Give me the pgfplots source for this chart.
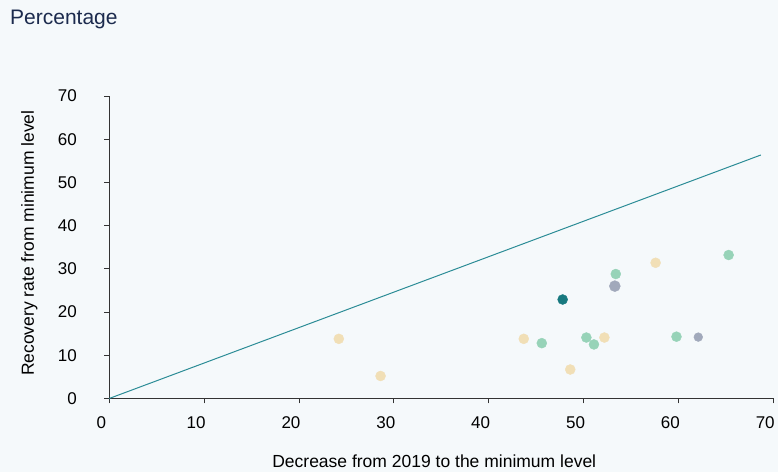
\documentclass[border=0pt]{standalone}
\usepackage{fontspec}
\setmainfont{Liberation Sans}
\usepackage{pgfplots}
\pgfplotsset{compat=1.18}
\definecolor{bg}{HTML}{F5F9FB}
\definecolor{titlenavy}{HTML}{1C2B4E}
\definecolor{axisgray}{HTML}{333333}
\definecolor{beige}{HTML}{F1DFB6}
\definecolor{mint}{HTML}{97D3B8}
\definecolor{tealdark}{HTML}{17797F}
\definecolor{slate}{HTML}{A1A9BB}
\definecolor{diag}{HTML}{2B8C96}
\begin{document}
\begin{tikzpicture}[x=1pt,y=1pt]
\fill[bg] (0,0) rectangle (778,472);
\node[anchor=west, inner sep=0pt, text=titlenavy, font=\fontsize{21}{24}\selectfont] at (10,453) {Percentage};
\begin{axis}[
    at={(109.3pt,73.5pt)}, anchor=south west,
    scale only axis, width=664pt, height=302.5pt,
    xmin=0, xmax=70, ymin=0, ymax=70,
    axis lines=left,
    axis line style={-, draw=axisgray, line width=0.9pt},
    xtick={0,10,...,70}, ytick={0,10,...,70},
    tick align=outside, major tick length=5pt,
    tick style={draw=axisgray, line width=0.8pt},
    ticklabel style={font=\fontsize{17}{19}\selectfont},
    /pgf/number format/assume math mode=true,
    xticklabel style={anchor=center, yshift=-19pt, xshift=-8pt},
    yticklabel style={anchor=east, xshift=-24pt},
    xlabel={Decrease from 2019 to the minimum level},
    ylabel={Recovery rate from minimum level},
    label style={font=\fontsize{17.5}{20}\selectfont},
    xlabel style={at={(axis description cs:0.5,0)}, anchor=center, yshift=-63pt, xshift=-7pt},
    ylabel style={at={(axis description cs:0,0.5)}, anchor=center, yshift=80pt, xshift=4pt},
    clip=false,
  ]
  \addplot[diag, line width=1pt] coordinates {(0,0) (68.7,56.35)};
  \addplot[only marks, mark=*, mark size=5pt, color=beige] coordinates {
    (24.2,13.8) (28.6,5.2) (43.7,13.8) (48.6,6.7) (52.2,14.1) (57.6,31.4)
  };
  \addplot[only marks, mark=*, mark size=5pt, color=mint] coordinates {
    (45.6,12.8) (50.3,14.1) (51.1,12.5) (53.4,28.8) (59.8,14.3) (65.3,33.2)
  };
  \addplot[only marks, mark=*, mark size=5.5pt, color=slate] coordinates {
    (53.3,26.0)
  };
  \addplot[only marks, mark=*, mark size=4.4pt, color=slate] coordinates {
    (62.1,14.2)
  };
  \addplot[only marks, mark=*, mark size=5pt, color=tealdark] coordinates {
    (47.8,22.9)
  };
\end{axis}
\end{tikzpicture}
\end{document}
